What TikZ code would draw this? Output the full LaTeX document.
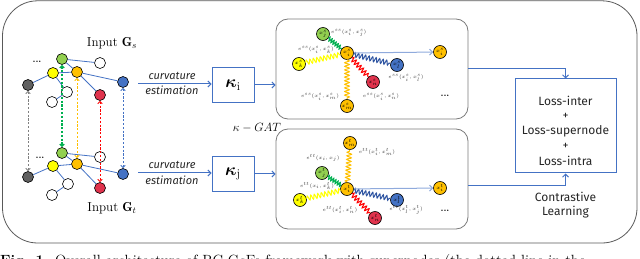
\documentclass[tikz,border=0pt]{standalone}
\usepackage{fontspec}
\usepackage{amsmath,bm}
\usetikzlibrary{arrows.meta,decorations.pathmorphing}
\newfontfamily\hand{Fira Sans}
\definecolor{bl}{HTML}{4472C4}
\definecolor{lbl}{HTML}{8FAADC}
\definecolor{ngreen}{HTML}{92D050}
\definecolor{nyellow}{HTML}{FFFF00}
\definecolor{norange}{HTML}{FFC000}
\definecolor{nred}{HTML}{E0334D}
\definecolor{nblue}{HTML}{4472C4}
\definecolor{ngray}{HTML}{606060}
\definecolor{sgreen}{HTML}{00B050}
\definecolor{sblue}{HTML}{2E54A1}
\definecolor{sred}{HTML}{FF0000}
\definecolor{frame}{HTML}{595959}
\tikzset{
  gnode/.style={circle,draw=black,line width=0.6pt,minimum size=11pt,inner sep=0pt},
  inode/.style={circle,draw=black,line width=0.6pt,minimum size=13pt,inner sep=0pt,font=\fontsize{5.5}{6}\selectfont},
  gedge/.style={bl,line width=0.8pt},
  darr/.style={line width=0.9pt,dash pattern=on 2.2pt off 1.6pt,{Straight Barb[length=2.2pt,width=4.5pt]}-{Straight Barb[length=2.2pt,width=4.5pt]}},
  barrow/.style={bl,line width=1pt,-{Straight Barb[length=3pt,width=6pt]}},
  kbox/.style={draw=bl,line width=1pt,minimum width=42pt,minimum height=35pt,inner sep=0pt},
  ibox/.style={draw=frame!80,line width=0.8pt,rounded corners=12pt,minimum width=192pt,minimum height=100pt,inner sep=0pt},
  spring/.style={line width=1pt,decorate,decoration={snake,amplitude=2.3pt,segment length=3.6pt}},
  elab/.style={font=\fontsize{5.5}{6}\selectfont,text=black!75,inner sep=0pt},
  handtxt/.style={font=\hand\itshape\fontsize{11}{12}\selectfont,text=black!85,inner sep=0pt},
  losstxt/.style={font=\hand\fontsize{12}{15}\selectfont,text=black!85,align=center,inner sep=0pt},
  dots/.style={font=\bfseries\fontsize{9}{9}\selectfont,inner sep=0pt},
}
\begin{document}
\begin{tikzpicture}[x=1pt,y=-1pt]
\useasboundingbox (0,0) rectangle (640,259);
% outer frame
\draw[frame,line width=0.8pt,rounded corners=35pt] (2.5,0.8) rectangle (637,243);

% ---------- left graphs ----------
\node[font=\fontsize{13}{15}\selectfont] (ins) at (112,43) {Input $\mathbf{G}_s$};
\node[font=\fontsize{13}{15}\selectfont] (int) at (112,208) {Input $\mathbf{G}_t$};
\node[dots] (d1) at (37,62) {...};
\node[dots] (d2) at (40,158) {...};

% top graph
\node[gnode,fill=ngreen]  (g1) at (62,59) {};
\node[gnode,fill=white]   (w1) at (100,63) {};
\node[gnode,fill=nyellow] (y1) at (53,73) {};
\node[gnode,fill=norange] (o1) at (77,72) {};
\node[gnode,fill=ngray]   (gr1) at (28,85) {};
\node[gnode,fill=nblue]   (b1) at (123,82) {};
\node[gnode,fill=white]   (w2) at (67,92) {};
\node[gnode,fill=nred]    (r1) at (100,95) {};
\node[gnode,fill=white]   (w3) at (52,102) {};
% bottom graph
\node[gnode,fill=ngreen]  (g2) at (62,153) {};
\node[gnode,fill=white]   (w4) at (100,157) {};
\node[gnode,fill=nyellow] (y2) at (53,166) {};
\node[gnode,fill=norange] (o2) at (77,164) {};
\node[gnode,fill=ngray]   (gr2) at (28,177) {};
\node[gnode,fill=nblue]   (b2) at (123,174) {};
\node[gnode,fill=white]   (w5) at (68,184) {};
\node[gnode,fill=nred]    (r2) at (100,188) {};
\node[gnode,fill=white]   (w6) at (52,195) {};

\draw[gedge] (g1)--(w1) (g1)--(o1) (y1)--(o1) (y1)--(gr1) (o1)--(b1) (o1)--(r1) (y1)--(w2) (w2)--(w3);
\draw[gedge] (g2)--(w4) (g2)--(o2) (y2)--(o2) (y2)--(gr2) (o2)--(b2) (o2)--(r2) (y2)--(w5) (w5)--(w6);

\draw[darr,gray] (gr1)--(gr2);
\draw[darr,sgreen,line width=1.3pt] (g1)--(g2);
\draw[darr,norange] (o1)--(o2);
\draw[darr,sred] (r1)--(r2);
\draw[darr,bl] (b1)--(b2);

% ---------- curvature estimation ----------
\node[kbox] (k1) at (233,85) {\fontsize{17}{17}\selectfont$\bm{\kappa}_{\mathrm{i}}$};
\node[kbox] (k2) at (233,174) {\fontsize{17}{17}\selectfont$\bm{\kappa}_{\mathrm{j}}$};
\coordinate (c1) at (138,84);
\coordinate (c2) at (138,173);
\draw[barrow] (c1) -- (c1 -| k1.west);
\draw[barrow] (c2) -- (c2 -| k2.west);
\node[handtxt] (cu1) at (172,76) {curvature};
\node[handtxt] (es1) at (172,90) {estimation};
\node[handtxt] (cu2) at (172,165) {curvature};
\node[handtxt] (es2) at (172,180) {estimation};
\node[font=\fontsize{12}{12}\selectfont] (gat) at (257,128) {$\kappa-GAT$};

% ---------- inner boxes ----------
\node[ibox] (ib1) at (372,69) {};
\node[ibox] (ib2) at (372,179) {};
\draw[barrow] (k1.east) -- (k1.east -| ib1.west);
\draw[barrow] (k2.east) -- (k2.east -| ib2.west);

% top inner graph
\node[inode,fill=norange] (ci)  at (347,53)  {$x_i^s$};
\node[inode,fill=ngreen]  (gj)  at (323,34)  {$x_j^s$};
\node[inode,fill=nyellow] (yk)  at (299,64)  {$x_k^s$};
\node[inode,fill=nblue]   (blN) at (397,65)  {$x_l^s$};
\node[inode,fill=nred]    (rn)  at (373,82)  {$x_n^s$};
\node[inode,fill=norange] (om)  at (347,106) {$x_m^s$};
\node[inode,fill=norange] (ot)  at (440,52)  {$x_i^{s}$};
\node[dots] (dd1) at (445,96) {...};
\draw[spring,sgreen,decoration={snake,amplitude=2pt,segment length=2.6pt}] (gj) -- (ci);
\draw[spring,nyellow] (yk) -- (ci);
\draw[spring,sred] (ci) -- (rn);
\draw[spring,sblue] (ci) -- (blN);
\draw[spring,norange] (ci) -- (om);
\draw[lbl,line width=1pt,-{Straight Barb[length=3pt,width=6pt]}] (ci) -- (ot);
\node[elab,anchor=west] (e1) at (331,33) {$e^{ss}(x_i^s,x_j^s)$};
\node[elab] (e2) at (316,50) {$e^{ss}(x_i^s,x_k^s)$};
\node[elab] (e3) at (406,78) {$e^{ss}(x_i^s,x_l^s)$};
\node[elab] (e4) at (320,97) {$e^{ss}(x_i^s,x_m^s)$};
\node[elab] (e5) at (381,97) {$e^{ss}(x_i^s,x_n^s)$};

% bottom inner graph
\node[inode,fill=norange] (ci2) at (347,189) {$x_i^t$};
\node[inode,fill=norange] (om2) at (350,143) {$x_m^t$};
\node[inode,fill=ngreen]  (gj2) at (322,173) {$x_j^t$};
\node[inode,fill=nyellow] (yk2) at (300,200) {$x_k^t$};
\node[inode,fill=nblue]   (bl2) at (397,200) {$x_l^t$};
\node[inode,fill=nred]    (rn2) at (375,218) {$x_n^t$};
\node[inode,fill=norange] (ot2) at (440,188) {$x_i^{t}$};
\node[dots] (dd2) at (445,211) {...};
\draw[spring,sgreen,decoration={snake,amplitude=2pt,segment length=2.6pt}] (gj2) -- (ci2);
\draw[spring,nyellow] (yk2) -- (ci2);
\draw[spring,sred] (ci2) -- (rn2);
\draw[spring,sblue] (ci2) -- (bl2);
\draw[spring,norange] (ci2) -- (om2);
\draw[lbl,line width=1pt,-{Straight Barb[length=3pt,width=6pt]}] (ci2) -- (ot2);
\node[elab] (f1) at (377,152) {$e^{tt}(x_i^t,x_m^t)$};
\node[elab] (f2) at (323,158) {$e^{tt}(x_i,x_j)$};
\node[elab] (f3) at (317,186) {$e^{tt}(x_i,x_k^t)$};
\node[elab] (f4) at (340,210) {$e^{tt}(x_i^t,x_n^t)$};
\node[elab] (f5) at (406,210) {$e^{tt}(x_l^t,x_j^t)$};

% ---------- loss box ----------
\node[draw=bl,line width=1pt,minimum width=101pt,minimum height=94pt,inner sep=0pt] (loss) at (565.5,126) {};
\node[losstxt] (l1) at (565.5,101) {Loss-inter};
\node[losstxt] (p1) at (565.5,116) {+};
\node[losstxt] (l2) at (565.5,131) {Loss-supernode};
\node[losstxt] (p2) at (565.5,146) {+};
\node[losstxt] (l3) at (565.5,161) {Loss-intra};
\node[losstxt] (cl1) at (565.5,197) {Contrastive};
\node[losstxt] (cl2) at (565.5,212) {Learning};
\coordinate (o2out) at (468,185);
\draw[barrow] (ib1.east) -| (loss.north);
\draw[barrow] (o2out) -| (loss.south);

% ---------- caption (cut off) ----------
\node[anchor=base west,inner sep=0pt,font=\fontsize{14.8}{16}\selectfont] (cap) at (0,265) {\textbf{Fig. 1.} Overall architecture of RC-GcFe framework with supernodes (the dotted line in the};
\end{tikzpicture}
\end{document}
